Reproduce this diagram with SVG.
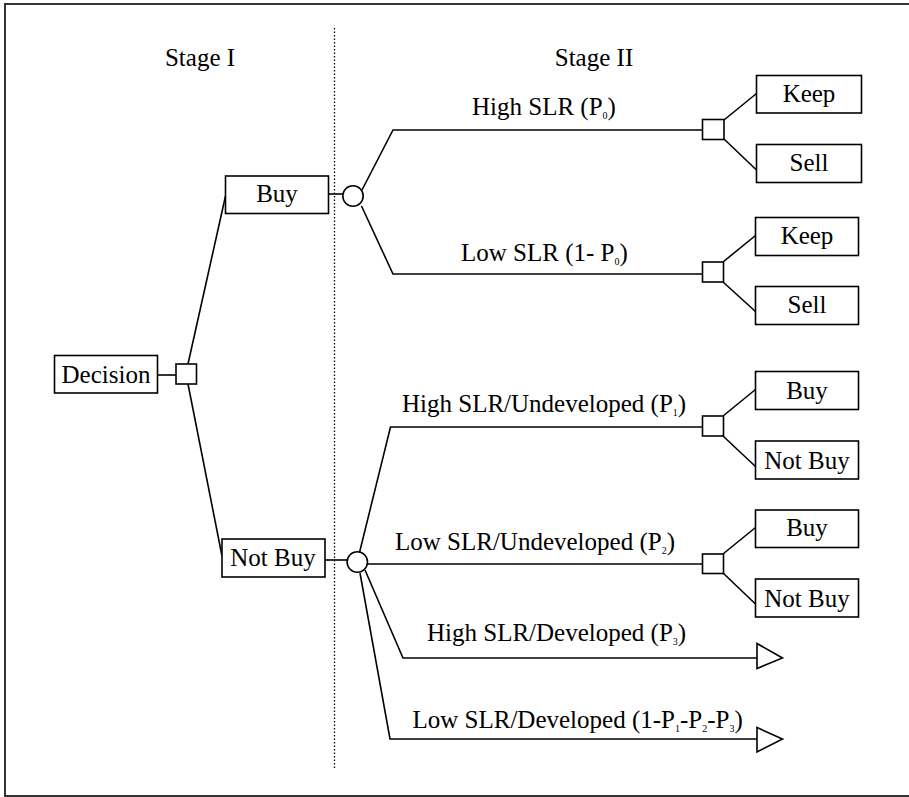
<svg xmlns="http://www.w3.org/2000/svg" width="909" height="797" viewBox="0 0 909 797">
<style>
text{font-family:"Liberation Serif","Times New Roman",serif;font-size:25px;fill:#000}
.c{text-anchor:middle}
.box{fill:#fff;stroke:#000;stroke-width:1.6}
.ln{fill:none;stroke:#000;stroke-width:1.6}
.sub{font-size:10px}
</style>
<rect x="5" y="4" width="920" height="792" fill="#fff" stroke="#333" stroke-width="2"/>
<line x1="334.5" y1="28" x2="334.5" y2="768" stroke="#000" stroke-width="1.3" stroke-dasharray="1.5,2"/>
<text class="c" x="200" y="66">Stage I</text>
<text class="c" x="594" y="66">Stage II</text>
<g id="connectors">
<line class="ln" x1="157.5" y1="375" x2="176" y2="375"/>
<polyline class="ln" points="188,364 225.5,196"/>
<polyline class="ln" points="188,384 222,556"/>
<line class="ln" x1="328.5" y1="194" x2="343" y2="194"/>
<line class="ln" x1="325" y1="560" x2="347.5" y2="560"/>
<polyline class="ln" points="362,190 393,130 702,130"/>
<polyline class="ln" points="361.5,206 393,274 702,274"/>
<polyline class="ln" points="724,120 756.5,93.5"/>
<polyline class="ln" points="724,139 756.5,170"/>
<polyline class="ln" points="723,262 755.5,235.5"/>
<polyline class="ln" points="723,282 755.5,311.5"/>
<polyline class="ln" points="359.5,552.5 390.5,427 702,427"/>
<line class="ln" x1="367" y1="564" x2="702" y2="564"/>
<polyline class="ln" points="365,570 403,658 757,658"/>
<polyline class="ln" points="360,573 390,739 757,739"/>
<polyline class="ln" points="723,416 755.5,389.5"/>
<polyline class="ln" points="723,436 755.5,466.5"/>
<polyline class="ln" points="723,554 755.5,527.5"/>
<polyline class="ln" points="723,573 755.5,604"/>
</g>
<g id="decision"><rect class="box" x="54.5" y="355.5" width="103" height="37.5"/><text class="c" x="106" y="383">Decision</text></g>
<g id="sq0"><rect class="box" x="176" y="364" width="20.5" height="20"/></g>
<g id="buy"><rect class="box" x="225.5" y="176" width="103" height="37.5"/><text class="c" x="277" y="202">Buy</text></g>
<g id="notbuy"><rect class="box" x="222" y="539" width="103" height="38"/><text class="c" x="273" y="566">Not Buy</text></g>
<g id="chance1"><circle class="box" cx="353" cy="196" r="10.2"/></g>
<g id="chance2"><circle class="box" cx="357.3" cy="562" r="10.2"/></g>
<g id="sq1"><rect class="box" x="702.5" y="119.5" width="21.5" height="20"/></g>
<g id="sq2"><rect class="box" x="702.5" y="262" width="21" height="20"/></g>
<g id="sq3"><rect class="box" x="702.5" y="416" width="21" height="20"/></g>
<g id="sq4"><rect class="box" x="702.5" y="554" width="21" height="19.5"/></g>
<g id="keep1"><rect class="box" x="756.5" y="75.5" width="105" height="37.5"/><text class="c" x="809" y="102">Keep</text></g>
<g id="sell1"><rect class="box" x="756.5" y="144.5" width="105" height="38"/><text class="c" x="809" y="171">Sell</text></g>
<g id="keep2"><rect class="box" x="755.5" y="217.5" width="103" height="38"/><text class="c" x="807" y="244">Keep</text></g>
<g id="sell2"><rect class="box" x="755.5" y="286.5" width="103" height="38"/><text class="c" x="807" y="313">Sell</text></g>
<g id="buy3"><rect class="box" x="755.5" y="371.5" width="103" height="38"/><text class="c" x="807" y="398.5">Buy</text></g>
<g id="notbuy3"><rect class="box" x="755.5" y="441" width="103" height="38"/><text class="c" x="807" y="468.5">Not Buy</text></g>
<g id="buy4"><rect class="box" x="755.5" y="510" width="103" height="37.5"/><text class="c" x="807" y="536">Buy</text></g>
<g id="notbuy4"><rect class="box" x="755.5" y="579" width="103" height="38"/><text class="c" x="807" y="607">Not Buy</text></g>
<g id="end1"><polygon class="box" points="757,643.5 782.5,658 757,668.5"/></g>
<g id="end2"><polygon class="box" points="757,727.5 782.5,739 757,752"/></g>
<g id="labels">
<text x="472" y="115">High SLR (P<tspan class="sub" dy="4">0</tspan><tspan dy="-4">)</tspan></text>
<text x="461" y="261">Low SLR (1- P<tspan class="sub" dy="4">0</tspan><tspan dy="-4">)</tspan></text>
<text x="402" y="412">High SLR/Undeveloped (P<tspan class="sub" dy="4">1</tspan><tspan dy="-4">)</tspan></text>
<text x="395" y="550">Low SLR/Undeveloped (P<tspan class="sub" dy="4">2</tspan><tspan dy="-4">)</tspan></text>
<text x="427" y="641">High SLR/Developed (P<tspan class="sub" dy="4">3</tspan><tspan dy="-4">)</tspan></text>
<text x="412.5" y="728">Low SLR/Developed (1-P<tspan class="sub" dy="4">1</tspan><tspan dy="-4">-P</tspan><tspan class="sub" dy="4">2</tspan><tspan dy="-4">-P</tspan><tspan class="sub" dy="4">3</tspan><tspan dy="-4">)</tspan></text>
</g>
</svg>
